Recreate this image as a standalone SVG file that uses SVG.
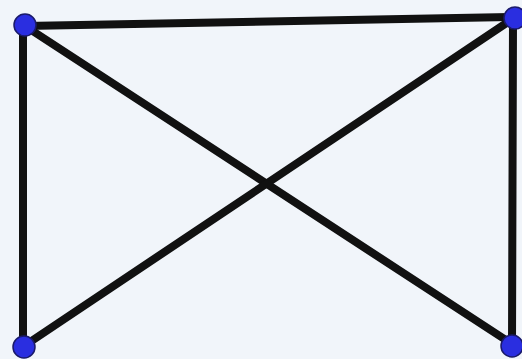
<svg xmlns="http://www.w3.org/2000/svg" width="522" height="359" viewBox="0 0 522 359">
<style>
.e{stroke:#111;stroke-width:8;stroke-linecap:round;fill:none}
.n{fill:#2a2ee0;stroke:#1a1a6a;stroke-width:1.5}
</style>
<rect width="522" height="359" fill="#f1f5fa"/>
<g id="edges">
<line class="e" x1="25" y1="26" x2="514" y2="17"/>
<line class="e" x1="23" y1="26" x2="23" y2="346"/>
<line class="e" x1="513" y1="20" x2="512" y2="344"/>
<line class="e" x1="25" y1="26" x2="512" y2="344"/>
<line class="e" x1="514" y1="18" x2="24" y2="346"/>
</g>
<g id="n1"><circle class="n" cx="25" cy="25" r="11"/></g>
<g id="n2"><circle class="n" cx="515" cy="18" r="11"/></g>
<g id="n3"><circle class="n" cx="24" cy="347" r="11"/></g>
<g id="n4"><circle class="n" cx="512" cy="346" r="11"/></g>
</svg>
